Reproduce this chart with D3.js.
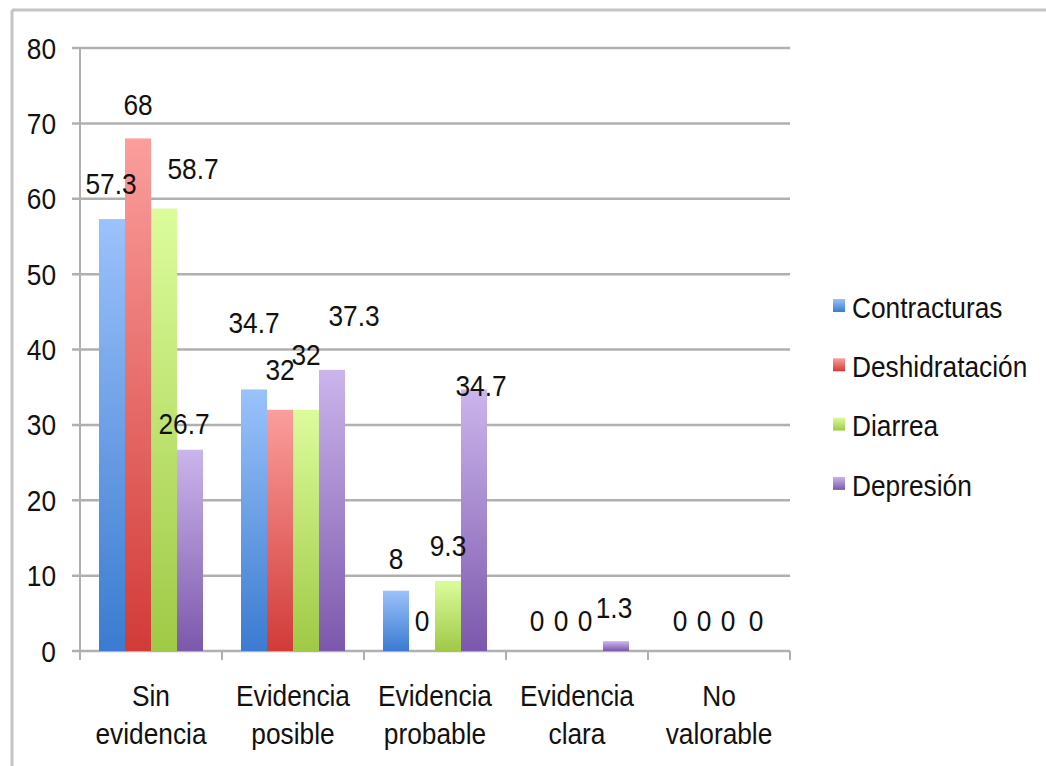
<!DOCTYPE html>
<html><head><meta charset="utf-8">
<script src="https://cdn.jsdelivr.net/npm/d3@7"></script>
<style>body{margin:0;background:#fff;}svg{display:block;}text{font-family:"Liberation Sans",Arial,Helvetica,sans-serif;fill:#111;}</style>
</head><body>
<script>
const categories = [["Sin","evidencia"],["Evidencia","posible"],["Evidencia","probable"],["Evidencia","clara"],["No","valorable"]];
const seriesNames = ["Contracturas","Deshidratación","Diarrea","Depresión"];
const contracturas = [57.3, 34.7, 8, 0, 0];
const deshidratacion = [68, 32, 0, 0, 0];
const diarrea = [58.7, 32, 9.3, 0, 0];
const depresion = [26.7, 37.3, 34.7, 1.3, 0];
const yTicks = [0,10,20,30,40,50,60,70,80];
// label nudges (px) relative to default placement above each bar, per series x category
const labelDx = [[-1,0,0,-1,0],[0,0,0,-3,-2],[29,0,0,-5,-4],[-6,22,7,-2,-2]];
const labelDy = [[-4,-35,0,1,1],[-2,-8,1,1,1],[-8,-23,-4,1,1],[6,-22,28,-2,1]];
const topColors = ["#9bc2fb","#fb9e9c","#dcfc9c","#cbb5ec"];
const botColors = ["#3b7bd0","#d13b38","#9fc946","#7c58ac"];

const values = [contracturas, deshidratacion, diarrea, depresion];
const W = 1046, H = 766;
const svg = d3.select("body").append("svg").attr("width", W).attr("height", H);
const defs = svg.append("defs");
seriesNames.forEach((s,i)=>{
  const g = defs.append("linearGradient").attr("id","grad"+i).attr("x1",0).attr("y1",0).attr("x2",0).attr("y2",1);
  g.append("stop").attr("offset","0%").attr("stop-color",topColors[i]);
  g.append("stop").attr("offset","100%").attr("stop-color",botColors[i]);
});

// outer frame
svg.append("line").attr("x1",12).attr("x2",W).attr("y1",10).attr("y2",10).attr("stroke","#c4c4c4").attr("stroke-width",3);
svg.append("line").attr("x1",12).attr("x2",12).attr("y1",10).attr("y2",H).attr("stroke","#c4c4c4").attr("stroke-width",3);

const pLeft = 80, pRight = 790, pTop = 48, pBottom = 651;
const x0 = d3.scaleBand().domain(d3.range(categories.length)).range([pLeft, pRight]).paddingInner(0).paddingOuter(0);
const x1 = d3.scaleBand().domain(d3.range(seriesNames.length)).range([19, x0.bandwidth()-19]).padding(0);
const y = d3.scaleLinear().domain([0,80]).range([pBottom, pTop]);
const FS = 26.3, SY = 1.12;

// gridlines
svg.append("g").selectAll("line").data(yTicks).join("line")
  .attr("x1", pLeft-8).attr("x2", pRight).attr("y1", d=>y(d)).attr("y2", d=>y(d))
  .attr("stroke","#b0b0b0").attr("stroke-width",2.5);
// y axis line
svg.append("line").attr("x1",pLeft).attr("x2",pLeft).attr("y1",pTop).attr("y2",pBottom+9).attr("stroke","#b0b0b0").attr("stroke-width",2);
// category ticks
svg.append("g").selectAll("line").data(d3.range(categories.length+1)).join("line")
  .attr("x1", d=> pLeft + d*x0.bandwidth()).attr("x2", d=> pLeft + d*x0.bandwidth())
  .attr("y1", pBottom).attr("y2", pBottom+9).attr("stroke","#b0b0b0").attr("stroke-width",2);

// y tick labels
svg.append("g").selectAll("text").data(yTicks).join("text")
  .attr("transform", d=>`translate(56,${y(d)}) scale(1,${SY})`)
  .attr("dy","0.36em").attr("text-anchor","end").attr("font-size",FS).text(d=>d);

// bars
const groups = svg.append("g").selectAll("g").data(categories).join("g")
  .attr("transform",(d,i)=>`translate(${x0(i)},0)`);
groups.selectAll("rect").data((d,ci)=>values.map((v,si)=>({si, ci, v:v[ci]}))).join("rect")
  .attr("x", d=>x1(d.si)).attr("width", x1.bandwidth())
  .attr("y", d=>y(d.v)).attr("height", d=>y(0)-y(d.v))
  .attr("fill", d=>`url(#grad${d.si})`);

// value labels
const labs = [];
values.forEach((v,si)=>v.forEach((val,ci)=>labs.push({si,ci,val})));
svg.append("g").selectAll("text").data(labs).join("text")
  .attr("transform", d=>`translate(${x0(d.ci)+x1(d.si)+x1.bandwidth()/2+labelDx[d.si][d.ci]},${y(d.val)-32+labelDy[d.si][d.ci]}) scale(1,${SY})`)
  .attr("dy","0.36em").attr("text-anchor","middle").attr("font-size",FS).text(d=>d.val);

// category labels
const cl = svg.append("g").selectAll("g").data(categories).join("g");
cl.selectAll("text").data((d,i)=>d.map((t,j)=>({t,j,i}))).join("text")
  .attr("transform", d=>`translate(${x0(d.i)+x0.bandwidth()/2},${695+d.j*38}) scale(1,${SY})`)
  .attr("dy","0.36em").attr("text-anchor","middle").attr("font-size",FS).text(d=>d.t);

// legend
const lg = svg.append("g").selectAll("g").data(seriesNames).join("g")
  .attr("transform",(d,i)=>`translate(833,${307+i*59.3})`);
lg.append("rect").attr("x",0).attr("y",-8).attr("width",12).attr("height",13).attr("fill",(d,i)=>`url(#grad${i})`);
lg.append("text").attr("transform",`translate(19,0) scale(1,${SY})`).attr("dy","0.36em").attr("font-size",FS).text(d=>d);
</script>
</body></html>
